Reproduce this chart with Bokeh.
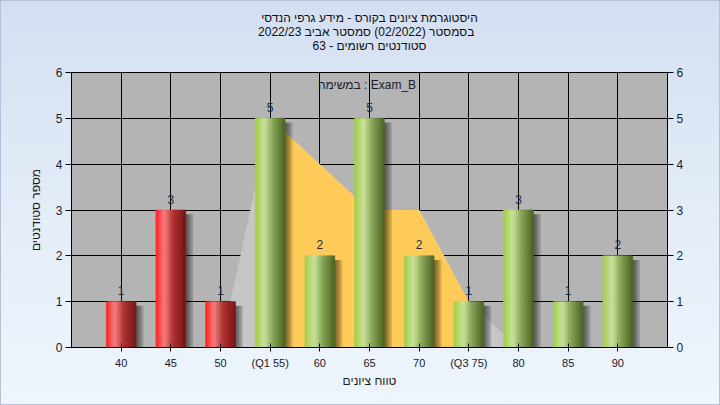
import numpy as np
from bokeh.plotting import figure
from bokeh.models import (ColumnDataSource, Range1d, LinearAxis, FixedTicker, Label, Title)
from bokeh.core.properties import value
from bokeh.embed import file_html
from bokeh.resources import INLINE

# ---------------- data ----------------
categories = ["40", "45", "50", "(Q1 55)", "60", "65", "70", "(Q3 75)", "80", "85", "90"]
counts = [1, 3, 1, 5, 2, 5, 2, 1, 3, 1, 2]
bar_kind = ["fail", "fail", "fail", "pass", "pass", "pass", "pass", "pass", "pass", "pass", "pass"]

# background distribution area (light gray) and inter-quartile area (orange)
dist_cats = ["50", "(Q1 55)", "60", "65", "70", "(Q3 75)", "80"]
dist_vals = [0, 5, 4, 3, 3, 1, 0]
iqr_cats = ["(Q1 55)", "60", "65", "70", "(Q3 75)"]
iqr_vals = [5, 4, 3, 3, 1]

y_ticks = [0, 1, 2, 3, 4, 5, 6]

title_lines = [
    "היסטוגרמת ציונים בקורס - מידע גרפי הנדסי",
    "בסמסטר  (02/2022)  סמסטר אביב 2022/23",
    "סטודנטים רשומים - 63",
]
task_text = "במשימה : Exam_B"
x_title = "טווח ציונים"
y_title = "מספר סטודנטים"

# ---------------- helpers ----------------
pos = {c: i + 1 for i, c in enumerate(categories)}
xs = [pos[c] for c in categories]


def hex2rgb(h):
    h = h.lstrip("#")
    return np.array([int(h[i:i + 2], 16) for i in (0, 2, 4)], dtype=float)


def interp(stops, t):
    for (t0, c0), (t1, c1) in zip(stops[:-1], stops[1:]):
        if t0 <= t <= t1:
            f = (t - t0) / (t1 - t0)
            c = hex2rgb(c0) * (1 - f) + hex2rgb(c1) * f
            return "#%02x%02x%02x" % tuple(int(round(v)) for v in c)
    return stops[-1][1]


green_stops = [(0.0, "#a0ce44"), (0.32, "#cce69e"), (0.6, "#8aa858"), (1.0, "#4a6424")]
red_stops = [(0.0, "#ff1e1e"), (0.3, "#f38282"), (0.6, "#b43030"), (1.0, "#781616")]

FONT = "Liberation Sans"
BAR_W = 0.6
N = 16

p = figure(width=720, height=405, output_backend="svg", toolbar_location=None,
           x_range=Range1d(0, 12), y_range=Range1d(0, 6),
           min_border_left=71, min_border_right=53, min_border_top=72, min_border_bottom=58,
           background_fill_color="#b4b4b4", border_fill_alpha=0.0,
           outline_line_color="black", outline_line_width=1,
           styles={"background": "linear-gradient(to bottom, #d3dff1 0%, #e4edf8 55%, #eef5fc 100%)",
                   "box-shadow": "inset 0 0 0 1px #b2c2d8"})

# grid
p.xgrid.ticker = FixedTicker(ticks=xs)
p.ygrid.ticker = FixedTicker(ticks=y_ticks)
for g in (p.xgrid, p.ygrid):
    g.grid_line_color = "black"
    g.grid_line_width = 1
    g.grid_line_alpha = 1.0

# areas
p.varea(x=[pos[c] for c in dist_cats], y1=0, y2=dist_vals, fill_color="#c6c6c6")
p.varea(x=[pos[c] for c in iqr_cats], y1=0, y2=iqr_vals, fill_color="#ffcb58")

# shadows
for d in (0.03, 0.07, 0.11, 0.15):
    p.vbar(x=[x + d for x in xs], width=BAR_W, top=[c - 0.09 for c in counts], bottom=0,
           fill_color="black", fill_alpha=0.16, line_color=None)

# gradient bars
sx, stop, scol = [], [], []
for x, c, k in zip(xs, counts, bar_kind):
    stops = red_stops if k == "fail" else green_stops
    for i in range(N):
        t = (i + 0.5) / N
        sx.append(x - BAR_W / 2 + BAR_W * t)
        stop.append(c)
        scol.append(interp(stops, t))
src = ColumnDataSource(dict(x=sx, top=stop, color=scol))
p.vbar(x="x", top="top", bottom=0, width=BAR_W / N, fill_color="color",
       line_color="color", line_width=0.6, source=src)

# value labels
p.text(x=xs, y=[c + 0.24 for c in counts], text=[str(c) for c in counts], text_align="center",
       text_baseline="middle", text_font=value(FONT),
       text_font_size="12px", text_color="#1c2a44")

# task label
p.add_layout(Label(x=5.95, y=5.72, text=task_text, text_align="center", text_baseline="middle",
                   text_font=FONT, text_font_size="12px", text_color="#1a1a2a"))

# axes
p.xaxis.ticker = FixedTicker(ticks=xs)
p.xaxis.major_label_overrides = {pos[c]: c for c in categories}
p.xaxis.minor_tick_line_color = None
p.xaxis.major_tick_in = 4
p.xaxis.major_tick_out = 4
p.xaxis.major_label_standoff = 5
p.xaxis.axis_label = x_title
p.xaxis.axis_label_standoff = 2
p.xaxis.axis_label_text_font_style = "normal"

p.yaxis.ticker = FixedTicker(ticks=y_ticks)
p.yaxis.minor_tick_line_color = None
p.yaxis.major_tick_in = 0
p.yaxis.major_tick_out = 6
p.yaxis.major_label_standoff = 3
p.yaxis.axis_label = y_title
p.yaxis.axis_label_standoff = 10
p.yaxis.axis_label_text_font_style = "normal"

right = LinearAxis(ticker=FixedTicker(ticks=y_ticks))
right.minor_tick_line_color = None
right.major_tick_in = 0
right.major_tick_out = 6
right.major_label_standoff = 3
p.add_layout(right, "right")

for ax in (p.xaxis[0], p.yaxis[0], right):
    ax.axis_line_color = "black"
    ax.major_tick_line_color = "black"
    ax.major_label_text_font = FONT
    ax.major_label_text_font_size = "12px"
    ax.major_label_text_color = "#1a1a2a"
    ax.axis_label_text_font = FONT
    ax.axis_label_text_font_size = "12px"
    ax.axis_label_text_color = "#1a1a1a"
p.xaxis[0].major_label_text_font_size = "11px"

# spacer between frame and title block
p.add_layout(Title(text=" ", text_font_size="17px", standoff=0, text_line_height=1.0), "above")
# title lines: innermost added first
for line in reversed(title_lines):
    p.add_layout(Title(text=line, align="center", offset=-9, standoff=-2,
                       text_font=FONT, text_font_size="12px", text_font_style="normal",
                       text_color="#101010", text_line_height=0.87), "above")

open("out.html", "w").write(file_html(p, INLINE))
